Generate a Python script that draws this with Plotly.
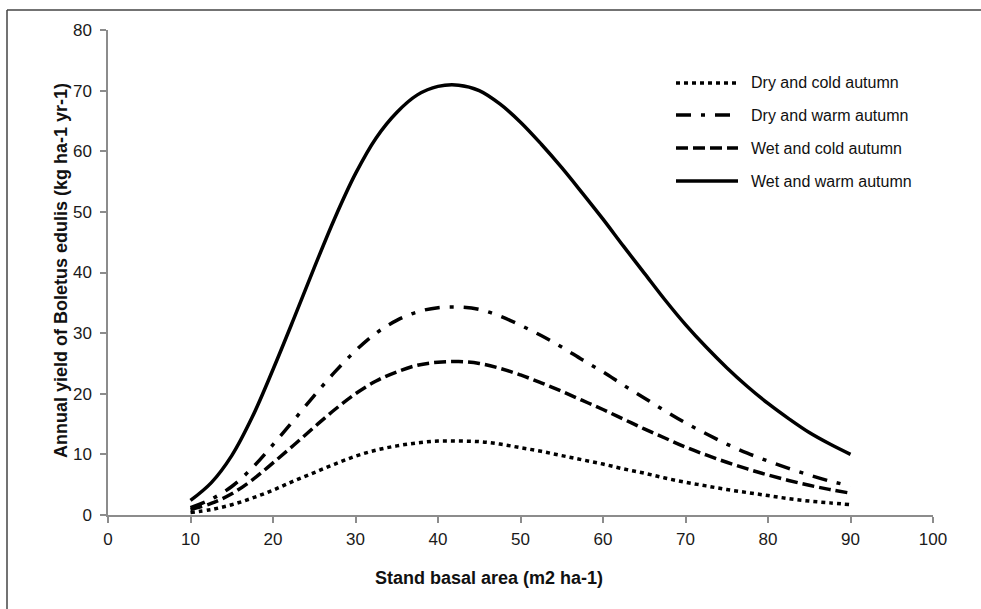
import plotly.graph_objects as go

# ---- data ----
basal_area = [10, 12.5, 15, 17.5, 20, 22.5, 25, 27.5, 30, 32.5, 35, 37.5, 40, 42.5,
              45, 47.5, 50, 52.5, 55, 57.5, 60, 62.5, 65, 67.5, 70, 72.5, 75, 77.5,
              80, 82.5, 85, 87.5, 90]

dry_cold = [0.4, 0.9, 1.7, 2.8, 4.1, 5.6, 7.0, 8.4, 9.7, 10.7, 11.4, 11.9, 12.2, 12.2,
            12.1, 11.7, 11.1, 10.5, 9.8, 9.1, 8.4, 7.6, 6.9, 6.1, 5.4, 4.8, 4.2, 3.7,
            3.2, 2.7, 2.3, 2.0, 1.7]
dry_warm = [1.2, 2.6, 4.7, 7.8, 11.6, 15.6, 19.7, 23.6, 27.1, 30.0, 32.1, 33.5, 34.2, 34.3,
            33.9, 32.8, 31.3, 29.6, 27.7, 25.6, 23.6, 21.4, 19.3, 17.2, 15.2, 13.4, 11.7, 10.2,
            8.9, 7.7, 6.6, 5.6, 4.8]
wet_cold = [0.9, 1.9, 3.5, 5.8, 8.6, 11.5, 14.5, 17.4, 20.0, 22.1, 23.6, 24.7, 25.2, 25.3,
            25.0, 24.2, 23.1, 21.8, 20.4, 18.9, 17.4, 15.8, 14.2, 12.7, 11.2, 9.9, 8.7, 7.6,
            6.6, 5.7, 4.9, 4.2, 3.6]
wet_warm = [2.4, 5.3, 9.8, 16.2, 24.0, 32.3, 40.8, 49.0, 56.3, 62.2, 66.4, 69.3, 70.7, 70.9,
            70.0, 67.8, 64.8, 61.2, 57.3, 53.1, 48.8, 44.3, 39.9, 35.5, 31.4, 27.7, 24.3, 21.2,
            18.4, 15.9, 13.6, 11.7, 10.0]

series_names = ["Dry and cold autumn", "Dry and warm autumn",
                "Wet and cold autumn", "Wet and warm autumn"]
series_values = [dry_cold, dry_warm, wet_cold, wet_warm]
series_dash = ["4px,4px", "15px,10px,4px,10px", "12px,5px", "solid"]

x_ticks = [0, 10, 20, 30, 40, 50, 60, 70, 80, 90, 100]
y_ticks = [0, 10, 20, 30, 40, 50, 60, 70, 80]

x_title = "Stand basal area (m2 ha-1)"
y_title = "Annual yield of Boletus edulis (kg ha-1 yr-1)"

# ---- layout constants (pixels) ----
W, H = 981, 609
ML, MR, MT, MB = 108, 48, 30, 94
PW, PH = W - ML - MR, H - MT - MB


def px_x(p):
    return (p - ML) / PW


def px_y(p):
    return (H - MB - p) / PH


FONT = "Liberation Sans, Arial, sans-serif"
LINE_W = 3.5

fig = go.Figure()
for name, vals, dash in zip(series_names, series_values, series_dash):
    fig.add_trace(go.Scatter(
        x=basal_area, y=vals, mode="lines", name=name,
        line=dict(color="black", width=LINE_W, dash=dash, shape="spline", smoothing=1.0),
        showlegend=False,
    ))

shapes = []
annotations = []

# custom legend (sample lines + labels)
legend_rows = [83, 115, 148, 181]
for name, dash, row in zip(series_names, series_dash, legend_rows):
    shapes.append(dict(type="line", xref="paper", yref="paper",
                       x0=px_x(676), x1=px_x(738), y0=px_y(row), y1=px_y(row),
                       line=dict(color="black", width=LINE_W, dash=dash)))
    annotations.append(dict(xref="paper", yref="paper", x=px_x(749), y=px_y(row),
                            text=name, showarrow=False, xanchor="left", yanchor="middle",
                            font=dict(family=FONT, size=16, color="#111111")))

# axis titles
annotations.append(dict(xref="paper", yref="paper", x=px_x(489), y=px_y(578),
                        text="<b>" + x_title + "</b>", showarrow=False,
                        xanchor="center", yanchor="middle",
                        font=dict(family=FONT, size=18, color="#111111")))
annotations.append(dict(xref="paper", yref="paper", x=px_x(61), y=px_y(271),
                        text="<b>" + y_title + "</b>", showarrow=False, textangle=-90,
                        xanchor="center", yanchor="middle",
                        font=dict(family=FONT, size=18, color="#111111")))

# outer chart border (only top and left edges are inside the frame)
shapes.append(dict(type="line", xref="paper", yref="paper",
                   x0=px_x(7), x1=px_x(W + 50), y0=px_y(10), y1=px_y(10),
                   line=dict(color="#444444", width=1.5), layer="below"))
shapes.append(dict(type="line", xref="paper", yref="paper",
                   x0=px_x(7), x1=px_x(7), y0=px_y(10), y1=px_y(H + 50),
                   line=dict(color="#444444", width=1.5), layer="below"))

axis_common = dict(
    showgrid=False, zeroline=False, showline=True, linecolor="#8c8c8c", linewidth=1.5,
    ticks="outside", ticklen=6, tickwidth=1.5, tickcolor="#8c8c8c",
    tickfont=dict(family=FONT, size=17, color="#1a1a1a"),
)

fig.update_layout(
    width=W, height=H,
    margin=dict(l=ML, r=MR, t=MT, b=MB, pad=0),
    paper_bgcolor="white", plot_bgcolor="white",
    xaxis=dict(range=[0, 100], tickvals=x_ticks, ticklabelstandoff=2, **axis_common),
    yaxis=dict(range=[0, 80], tickvals=y_ticks, ticklabelstandoff=5, **axis_common),
    shapes=shapes, annotations=annotations,
    showlegend=False,
)

fig.write_html("out.html")
